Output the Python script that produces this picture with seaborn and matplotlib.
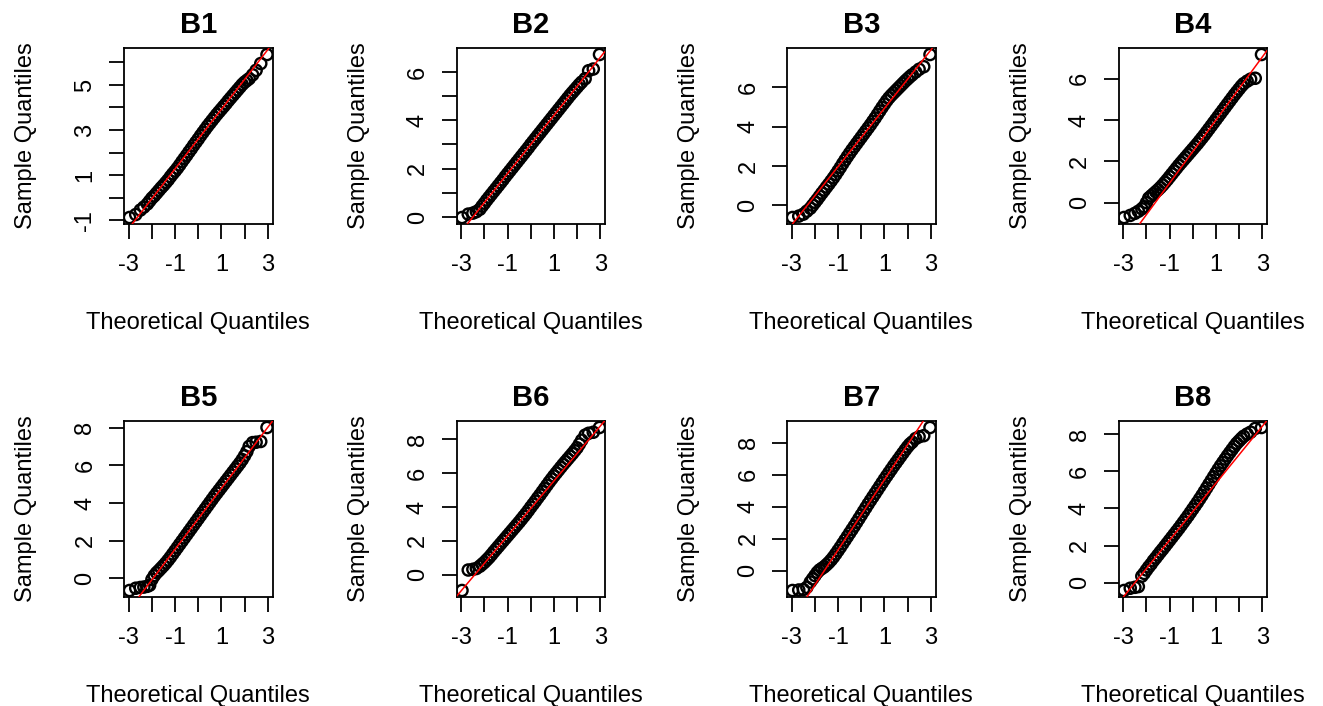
import matplotlib
matplotlib.use("Agg")
import matplotlib.pyplot as plt
import seaborn as sns
import pandas as pd

# ---------------- data ----------------
PANEL_TITLES = ["B1", "B2", "B3", "B4", "B5", "B6", "B7", "B8"]

THEORETICAL_QUANTILES = [
    -2.97, -2.7, -2.5, -2.35, -2.2, -2.1, -2.0, -1.9, -1.8, -1.7, -1.6, -1.5,
    -1.4, -1.3, -1.2, -1.1, -1.0, -0.9, -0.8, -0.7, -0.6, -0.5, -0.4, -0.3,
    -0.2, -0.1, 0.0, 0.1, 0.2, 0.3, 0.4, 0.5, 0.6, 0.7, 0.8, 0.9, 1.0, 1.1,
    1.2, 1.3, 1.4, 1.5, 1.6, 1.7, 1.8, 1.9, 2.0, 2.1, 2.2, 2.35, 2.5, 2.7, 2.97,
]

B1_SAMPLE = [
    -0.88, -0.75, -0.55, -0.42, -0.28, -0.15, -0.02, 0.08, 0.2, 0.32, 0.44, 0.55,
    0.67, 0.79, 0.93, 1.06, 1.18, 1.31, 1.45, 1.6, 1.74, 1.88, 2.03, 2.17,
    2.32, 2.46, 2.6, 2.75, 2.89, 3.03, 3.17, 3.3, 3.43, 3.56, 3.69, 3.81, 3.93, 4.05,
    4.17, 4.3, 4.42, 4.54, 4.66, 4.78, 4.9, 5.02, 5.12, 5.2, 5.28, 5.45, 5.65, 5.95, 6.35,
]
B2_SAMPLE = [
    -0.02, 0.12, 0.16, 0.22, 0.32, 0.45, 0.57, 0.7, 0.82, 0.94, 1.06, 1.18,
    1.3, 1.42, 1.54, 1.67, 1.79, 1.91, 2.03, 2.15, 2.27, 2.39, 2.51, 2.63,
    2.75, 2.87, 3.0, 3.12, 3.24, 3.36, 3.48, 3.6, 3.72, 3.84, 3.96, 4.08, 4.2, 4.32,
    4.44, 4.56, 4.68, 4.8, 4.92, 5.04, 5.15, 5.26, 5.37, 5.48, 5.58, 5.72, 6.05, 6.12, 6.72,
]
B3_SAMPLE = [
    -0.62, -0.55, -0.45, -0.3, -0.15, 0.0, 0.15, 0.3, 0.46, 0.62, 0.77, 0.93,
    1.08, 1.24, 1.4, 1.57, 1.75, 1.93, 2.12, 2.3, 2.48, 2.65, 2.82, 2.98,
    3.14, 3.3, 3.46, 3.62, 3.78, 3.94, 4.1, 4.27, 4.44, 4.62, 4.8, 4.98, 5.15, 5.32,
    5.47, 5.6, 5.72, 5.84, 5.96, 6.08, 6.2, 6.32, 6.43, 6.54, 6.64, 6.78, 6.92, 7.05, 7.67,
]
B4_SAMPLE = [
    -0.72, -0.62, -0.52, -0.42, -0.3, -0.2, 0.0, 0.22, 0.32, 0.42, 0.52, 0.62,
    0.73, 0.85, 0.98, 1.11, 1.25, 1.39, 1.53, 1.67, 1.81, 1.94, 2.07, 2.2,
    2.33, 2.46, 2.59, 2.72, 2.85, 2.99, 3.13, 3.27, 3.42, 3.57, 3.72, 3.87, 4.02, 4.17,
    4.32, 4.47, 4.62, 4.77, 4.92, 5.07, 5.22, 5.36, 5.5, 5.64, 5.76, 5.88, 5.98, 6.02, 7.17,
]
B5_SAMPLE = [
    -0.64, -0.52, -0.48, -0.46, -0.42, -0.36, -0.05, 0.15, 0.3, 0.42, 0.55, 0.68,
    0.82, 0.97, 1.13, 1.3, 1.47, 1.64, 1.81, 1.98, 2.15, 2.32, 2.49, 2.66,
    2.83, 3.0, 3.17, 3.34, 3.51, 3.68, 3.85, 4.02, 4.19, 4.36, 4.52, 4.68, 4.84, 5.0,
    5.16, 5.32, 5.48, 5.64, 5.8, 5.96, 6.12, 6.3, 6.5, 6.72, 7.0, 7.2, 7.22, 7.26, 8.0,
]
B6_SAMPLE = [
    -0.93, 0.28, 0.32, 0.37, 0.5, 0.62, 0.74, 0.88, 1.02, 1.18, 1.35, 1.51,
    1.67, 1.83, 1.99, 2.15, 2.31, 2.47, 2.63, 2.79, 2.95, 3.11, 3.28, 3.45,
    3.62, 3.8, 3.99, 4.17, 4.35, 4.54, 4.72, 4.91, 5.1, 5.29, 5.48, 5.66, 5.84, 6.01,
    6.18, 6.35, 6.52, 6.68, 6.84, 7.0, 7.16, 7.33, 7.5, 7.72, 7.95, 8.25, 8.36, 8.42, 8.7,
]
B7_SAMPLE = [
    -1.23, -1.2, -1.17, -1.03, -0.7, -0.5, -0.3, -0.1, 0.05, 0.15, 0.25, 0.38,
    0.52, 0.68, 0.86, 1.06, 1.27, 1.48, 1.7, 1.92, 2.14, 2.36, 2.58, 2.8,
    3.03, 3.26, 3.49, 3.72, 3.95, 4.18, 4.4, 4.62, 4.84, 5.06, 5.28, 5.5, 5.72, 5.93,
    6.14, 6.35, 6.56, 6.76, 6.96, 7.16, 7.36, 7.56, 7.75, 7.92, 8.05, 8.27, 8.38, 8.45, 8.96,
]
B8_SAMPLE = [
    -0.42, -0.3, -0.25, -0.21, 0.35, 0.5, 0.68, 0.85, 1.0, 1.18, 1.33, 1.49,
    1.65, 1.8, 1.96, 2.12, 2.28, 2.44, 2.6, 2.76, 2.92, 3.09, 3.26, 3.43,
    3.6, 3.78, 3.96, 4.14, 4.32, 4.51, 4.7, 4.9, 5.1, 5.3, 5.5, 5.7, 5.9, 6.1,
    6.29, 6.47, 6.65, 6.83, 7.0, 7.17, 7.34, 7.5, 7.63, 7.76, 7.88, 8.0, 8.1, 8.3, 8.35,
]
SAMPLES = [B1_SAMPLE, B2_SAMPLE, B3_SAMPLE, B4_SAMPLE,
           B5_SAMPLE, B6_SAMPLE, B7_SAMPLE, B8_SAMPLE]

# reference (qqline) lines: intercept and slope
QQLINE_INTERCEPT = [2.6, 3.0, 3.45, 2.47, 3.16, 3.92, 3.5, 3.82]
QQLINE_SLOPE = [1.32, 1.2, 1.48, 1.525, 1.615, 1.62, 2.19, 1.53]

X_TICKS = [-3, -2, -1, 0, 1, 2, 3]
X_TICK_LABELS = ["-3", "", "-1", "", "1", "", "3"]

Y_TICKS = [
    [-1, 0, 1, 2, 3, 4, 5, 6],
    [0, 1, 2, 3, 4, 5, 6],
    [0, 2, 4, 6],
    [0, 2, 4, 6],
    [0, 2, 4, 6, 8],
    [0, 2, 4, 6, 8],
    [0, 2, 4, 6, 8],
    [0, 2, 4, 6, 8],
]
Y_TICK_LABELS = [
    ["-1", "", "1", "", "3", "", "5", ""],
    ["0", "", "2", "", "4", "", "6"],
    ["0", "2", "4", "6"],
    ["0", "2", "4", "6"],
    ["0", "2", "4", "6", "8"],
    ["0", "2", "4", "6", "8"],
    ["0", "2", "4", "6", "8"],
    ["0", "2", "4", "6", "8"],
]

X_LABEL = "Theoretical Quantiles"
Y_LABEL = "Sample Quantiles"

# ---------------- style ----------------
sns.set_theme(style="white")
plt.rcParams["font.family"] = ["Liberation Sans", "DejaVu Sans"]
plt.rcParams["text.color"] = "black"
plt.rcParams["axes.labelcolor"] = "black"
plt.rcParams["xtick.color"] = "black"
plt.rcParams["ytick.color"] = "black"
plt.rcParams["axes.edgecolor"] = "black"
plt.rcParams["axes.linewidth"] = 1.3

W, H = 1323, 706
fig = plt.figure(figsize=(W / 100, H / 100), dpi=100)
fig.patch.set_facecolor("white")

col_left = [124, 456.5, 787, 1118.5]
row_top = [48, 421]
ax_w, ax_h = 148.5, 176

for i, title in enumerate(PANEL_TITLES):
    r, c = divmod(i, 4)
    left = col_left[c] / W
    bottom = (H - row_top[r] - ax_h) / H
    ax = fig.add_axes([left, bottom, ax_w / W, ax_h / H])

    df = pd.DataFrame({"theo": THEORETICAL_QUANTILES, "sample": SAMPLES[i]})
    sns.scatterplot(data=df, x="theo", y="sample", ax=ax, marker="o",
                    color="none", edgecolor="black", linewidth=1.7, s=65,
                    legend=False, zorder=2)
    ax.margins(0.04)
    ax.axline((0, QQLINE_INTERCEPT[i]), slope=QQLINE_SLOPE[i],
              color="red", linewidth=1.1, zorder=3)

    ax.set_xticks(X_TICKS)
    ax.set_xticklabels(X_TICK_LABELS)
    ax.set_yticks(Y_TICKS[i])
    ax.set_yticklabels(Y_TICK_LABELS[i], rotation=90, va="center")

    ax.tick_params(axis="both", which="major", direction="out", length=10.8,
                   width=1.3, color="black", labelcolor="black", labelsize=17,
                   bottom=True, left=True, top=False, right=False)
    ax.tick_params(axis="x", pad=11)
    ax.tick_params(axis="y", pad=9)
    for s in ax.spines.values():
        s.set_visible(True)
        s.set_color("black")
        s.set_linewidth(1.3)

    ax.set_xlabel(X_LABEL, fontsize=17, labelpad=26, color="black")
    ax.set_ylabel(Y_LABEL, fontsize=17, labelpad=27, color="black")
    ax.set_title(title, fontsize=21, fontweight="bold", pad=11, color="black")
    ax.set_facecolor("white")
    ax.grid(False)

fig.savefig("out.png", dpi=100, facecolor="white")
